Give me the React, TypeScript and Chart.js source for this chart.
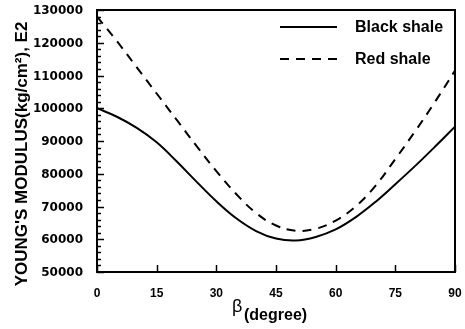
import React, { useEffect, useRef } from "react";
import { Chart, registerables } from "chart.js";

Chart.register(...registerables);

// Bedding angle β in degrees
const angles = [0, 5, 10, 15, 20, 25, 30, 35, 40, 45, 50, 55, 60, 65, 70, 75, 80, 85, 90];
// Young's modulus, kg/cm²
const blackShale = [100000, 97400, 94000, 89600, 83800, 77600, 71600, 66400, 62500, 60200, 59600, 60700, 63000, 66700, 71400, 76800, 82400, 88300, 94400];
const redShale = [128000, 120500, 112500, 104500, 96500, 88500, 80800, 73800, 68000, 64200, 62600, 63200, 65700, 70000, 76300, 84500, 93000, 102000, 111500];

const xTicks = [0, 15, 30, 45, 60, 75, 90];
const yTickLabels = ["50000", "60000", "70000", "80000", "90000", "100000", "110000", "120000", "130000"];
const seriesNames = ["Black shale", "Red shale"];

const FONT = "'Liberation Sans', Arial, sans-serif";

const decorPlugin = {
  id: "decor",
  afterDraw(chart: any) {
    const { ctx, chartArea: a, scales } = chart;
    const xs = scales.x;
    const ys = scales.y;
    ctx.save();
    ctx.strokeStyle = "#000";
    ctx.fillStyle = "#000";
    ctx.lineWidth = 2;
    ctx.strokeRect(a.left, a.top, a.right - a.left, a.bottom - a.top);

    // inward ticks on the left axis
    ctx.lineWidth = 1.5;
    for (let v = 50000; v <= 130000; v += 2000) {
      const y = Math.round(ys.getPixelForValue(v)) + 0.5;
      const len = v % 10000 === 0 ? 7 : 4;
      ctx.beginPath();
      ctx.moveTo(a.left, y);
      ctx.lineTo(a.left + len, y);
      ctx.stroke();
    }
    // inward ticks on the bottom axis
    for (const t of xTicks) {
      const x = Math.round(xs.getPixelForValue(t)) + 0.5;
      ctx.beginPath();
      ctx.moveTo(x, a.bottom);
      ctx.lineTo(x, a.bottom - 7);
      ctx.stroke();
    }

    // tick labels
    ctx.textBaseline = "middle";
    ctx.textAlign = "right";
    ctx.font = "bold 12px 'DejaVu Sans', sans-serif";
    for (const t of yTickLabels) {
      ctx.fillText(t, a.left - 14, ys.getPixelForValue(Number(t)) + 1);
    }
    ctx.textAlign = "center";
    ctx.font = `bold 12px ${FONT}`;
    for (const t of xTicks) {
      ctx.fillText(String(t), xs.getPixelForValue(t), a.bottom + 22);
    }

    // legend
    const lx0 = 280, lx1 = 337, tx = 355;
    const rows = [27, 59];
    ctx.lineWidth = 2;
    ctx.font = `bold 16px ${FONT}`;
    ctx.textAlign = "left";
    rows.forEach((ry, i) => {
      ctx.setLineDash(i === 0 ? [] : [9, 7]);
      ctx.beginPath();
      ctx.moveTo(lx0, ry);
      ctx.lineTo(lx1, ry);
      ctx.stroke();
      ctx.fillText(seriesNames[i], tx, ry + 1);
    });
    ctx.setLineDash([]);

    // x-axis title: β(degree)
    ctx.textBaseline = "alphabetic";
    ctx.font = `18px ${FONT}`;
    ctx.fillText("β", 232, 312);
    ctx.font = `bold 16px ${FONT}`;
    ctx.fillText("(degree)", 244, 320);

    // y-axis title
    ctx.translate(22, 154);
    ctx.rotate(-Math.PI / 2);
    ctx.textAlign = "center";
    ctx.textBaseline = "middle";
    ctx.font = `bold 17px ${FONT}`;
    ctx.fillText("YOUNG'S MODULUS(kg/cm²), E2", 0, 0);
    ctx.restore();
  },
};

export default function App() {
  const ref = useRef<HTMLCanvasElement | null>(null);

  useEffect(() => {
    if (!ref.current) return;
    const chart = new Chart(ref.current, {
      type: "line",
      data: {
        datasets: [
          {
            label: seriesNames[0],
            data: angles.map((a, i) => ({ x: a, y: blackShale[i] })),
            borderColor: "#000",
            borderWidth: 2,
            pointRadius: 0,
            tension: 0.4,
            fill: false,
          },
          {
            label: seriesNames[1],
            data: angles.map((a, i) => ({ x: a, y: redShale[i] })),
            borderColor: "#000",
            borderWidth: 2,
            borderDash: [9, 7],
            pointRadius: 0,
            tension: 0.4,
            fill: false,
          },
        ],
      },
      options: {
        animation: false,
        responsive: false,
        maintainAspectRatio: false,
        layout: { padding: { top: 10, right: 10, left: 0, bottom: 0 } },
        plugins: {
          legend: { display: false },
          tooltip: { enabled: false },
        },
        scales: {
          x: {
            type: "linear",
            min: 0,
            max: 90,
            afterBuildTicks: (s: any) => {
              s.ticks = xTicks.map((v) => ({ value: v }));
            },
            afterFit: (s: any) => {
              s.height = 57;
            },
            grid: { display: false, drawTicks: false },
            border: { display: false },
            ticks: { display: false },
          },
          y: {
            type: "linear",
            min: 50000,
            max: 130000,
            afterBuildTicks: (s: any) => {
              s.ticks = yTickLabels.map((t) => ({ value: Number(t) }));
            },
            afterFit: (s: any) => {
              s.width = 97;
            },
            grid: { display: false, drawTicks: false },
            border: { display: false },
            ticks: { display: false },
          },
        },
      },
      plugins: [decorPlugin],
    } as any);
    return () => chart.destroy();
  }, []);

  return (
    <div style={{ position: "absolute", left: 0, top: 0, width: 465, height: 329, background: "#fff" }}>
      <canvas ref={ref} width={465} height={329} style={{ display: "block" }} />
    </div>
  );
}
